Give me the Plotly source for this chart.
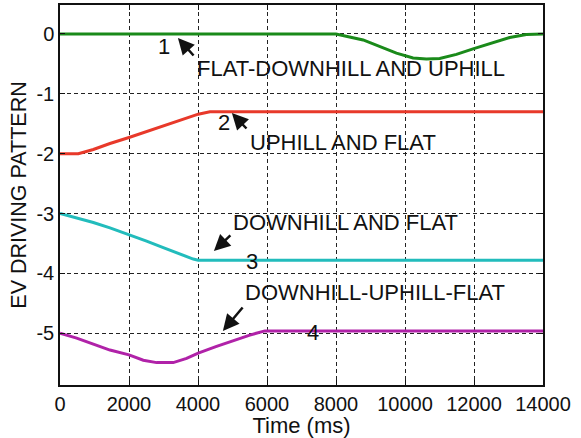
import plotly.graph_objects as go

# ---- data ----
t_green = [0, 8000, 8786, 9269, 9752, 10234, 10620, 11007, 11490, 11972, 12455, 13035, 13518, 14000]
v_green = [0, 0, -0.10, -0.21, -0.32, -0.40, -0.42, -0.41, -0.34, -0.25, -0.16, -0.06, -0.01, 0]

t_red = [0, 531, 966, 1448, 2000, 2510, 2993, 3476, 4007, 4345, 14000]
v_red = [-2, -2, -1.93, -1.83, -1.73, -1.63, -1.54, -1.45, -1.34, -1.30, -1.30]

t_cyan = [0, 483, 966, 1448, 2000, 2510, 2993, 3476, 3862, 4007, 14000]
v_cyan = [-3, -3.07, -3.15, -3.24, -3.35, -3.46, -3.57, -3.68, -3.76, -3.78, -3.78]

t_mag = [0, 483, 966, 1448, 2000, 2414, 2800, 3283, 3669, 4007, 4538, 5020, 5503, 5938, 14000]
v_mag = [-5, -5.08, -5.18, -5.28, -5.36, -5.45, -5.49, -5.49, -5.42, -5.33, -5.22, -5.12, -5.03, -4.96, -4.96]

x_ticks = [0, 2000, 4000, 6000, 8000, 10000, 12000, 14000]
x_ticktext = ["0", "2000", "4000", "6000", "8000", "10000", "12000", "14000"]
y_ticks = [0, -1, -2, -3, -4, -5]
y_ticktext = ["0", "-1", "-2", "-3", "-4", "-5"]

# curve numbers
num_labels = ["1", "2", "3", "4"]
num_t = [3012, 4750, 5561, 7328]
num_v = [-0.217, -1.487, -3.809, -4.995]

# descriptions
desc_labels = ["FLAT-DOWNHILL AND UPHILL", "UPHILL AND FLAT", "DOWNHILL AND FLAT", "DOWNHILL-UPHILL-FLAT"]
desc_t = [3900, 5440, 4950, 5300]
desc_v = [-0.585, -1.821, -3.149, -4.318]

# arrows: head and tail
arr_head_t = [3418, 4982, 4461, 4721]
arr_head_v = [-0.067, -1.32, -3.625, -4.962]
arr_tail_t = [3910, 5446, 4982, 5330]
arr_tail_v = [-0.384, -1.604, -3.341, -4.544]

FONT = "Liberation Sans, Arial, Helvetica, sans-serif"

fig = go.Figure()
series = [
    (t_green, v_green, "#1a8a1a"),
    (t_red, v_red, "#e8392a"),
    (t_cyan, v_cyan, "#22bcbc"),
    (t_mag, v_mag, "#b022a8"),
]
for t, v, c in series:
    fig.add_trace(go.Scatter(x=t, y=v, mode="lines", line=dict(color=c, width=3),
                             showlegend=False, hoverinfo="skip"))

ann = []
for s, x, y in zip(num_labels, num_t, num_v):
    ann.append(dict(x=x, y=y, xref="x", yref="y", text=s, showarrow=False,
                    font=dict(size=22, color="#111111", family=FONT)))
for s, x, y in zip(desc_labels, desc_t, desc_v):
    ann.append(dict(x=x, y=y, xref="x", yref="y", text=s, showarrow=False, xanchor="left",
                    font=dict(size=22, color="#111111", family=FONT)))
for hx, hy, tx, ty in zip(arr_head_t, arr_head_v, arr_tail_t, arr_tail_v):
    ann.append(dict(x=hx, y=hy, ax=tx, ay=ty, xref="x", yref="y", axref="x", ayref="y",
                    text="", showarrow=True, arrowhead=2, arrowsize=1.3, arrowwidth=2.5,
                    arrowcolor="#111111", standoff=0, startstandoff=0))

fig.update_layout(
    width=581, height=438,
    margin=dict(l=60, r=38, t=5, b=53, autoexpand=False),
    paper_bgcolor="white", plot_bgcolor="white",
    font=dict(family=FONT, size=20, color="#111111"),
    annotations=ann,
    xaxis=dict(range=[0, 14000], tickvals=x_ticks, ticktext=x_ticktext,
               showline=True, linecolor="#111111", linewidth=1.5, mirror="ticks",
               ticks="inside", ticklen=5, tickcolor="#111111",
               showgrid=True, gridcolor="#222222", gridwidth=1, griddash="4px,3px",
               zeroline=False,
               title=dict(text="Time (ms)", standoff=0, font=dict(size=22)),
               tickfont=dict(size=20)),
    yaxis=dict(range=[-5.864, 0.484], tickvals=y_ticks, ticktext=y_ticktext,
               showline=True, linecolor="#111111", linewidth=1.5, mirror="ticks",
               ticks="inside", ticklen=5, tickcolor="#111111",
               showgrid=True, gridcolor="#222222", gridwidth=1, griddash="4px,3px",
               zeroline=False,
               title=dict(text="EV DRIVING PATTERN", standoff=4, font=dict(size=21.5)),
               tickfont=dict(size=20)),
)

fig.write_html("out.html", config={"displayModeBar": False},
               post_script="document.body.style.margin='0';")
